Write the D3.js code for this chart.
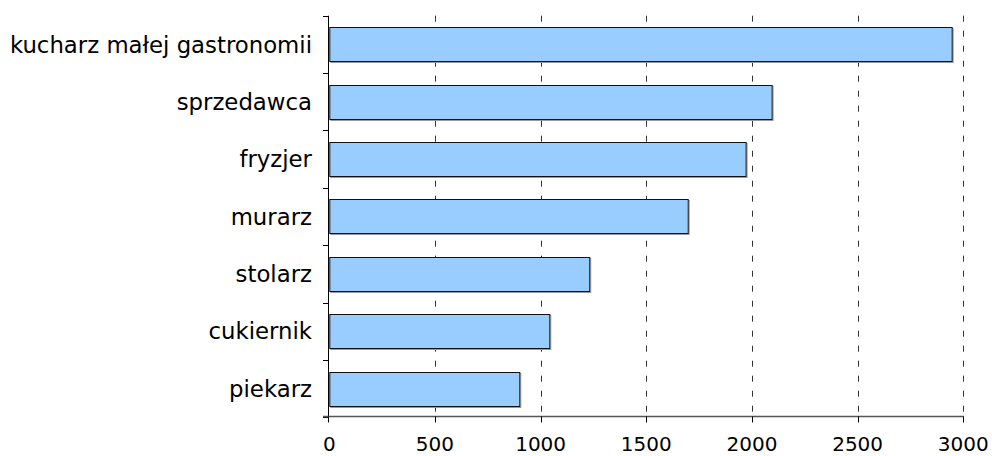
<!DOCTYPE html>
<html>
<head>
<meta charset="utf-8">
<script src="https://cdn.jsdelivr.net/npm/d3@7"></script>
<style>
  html, body { margin: 0; padding: 0; background: #fff; }
  svg { display: block; }
  text { font-family: "DejaVu Sans", Verdana, sans-serif; fill: #000; }
</style>
</head>
<body>
<svg id="chart" width="992" height="456"></svg>
<script>
const categories = ["kucharz małej gastronomii", "sprzedawca", "fryzjer", "murarz", "stolarz", "cukiernik", "piekarz"];
const values = [2945, 2093, 1970, 1696, 1230, 1041, 899];
const xTicks = [0, 500, 1000, 1500, 2000, 2500, 3000];

const W = 992, H = 456;
const margin = { top: 15.7, right: 28.7, bottom: 38.7, left: 329.3 };
const svg = d3.select("#chart");

const x = d3.scaleLinear().domain([0, 3000]).range([margin.left, W - margin.right]);
const pad = 0.407;
const y = d3.scaleBand().domain(categories)
  .range([margin.top, H - margin.bottom])
  .paddingInner(pad).paddingOuter(pad / 2);
const step = y.step();

// gridlines
svg.append("g").selectAll("line").data(xTicks.filter(t => t > 0)).join("line")
  .attr("x1", d => Math.round(x(d)) + 0.5).attr("x2", d => Math.round(x(d)) + 0.5)
  .attr("y1", margin.top).attr("y2", H - margin.bottom)
  .attr("stroke", "#333").attr("stroke-width", 1)
  .attr("stroke-dasharray", "6,9");

// bar shadows
svg.append("g").selectAll("rect").data(categories).join("rect")
  .attr("x", x(0) + 1.5)
  .attr("y", d => Math.round(y(d)) + 1.5)
  .attr("width", (d, i) => x(values[i]) - x(0))
  .attr("height", Math.round(y.bandwidth()))
  .attr("fill", "none").attr("stroke", "#999").attr("stroke-width", 1);

// bars
svg.append("g").selectAll("rect").data(categories).join("rect")
  .attr("x", x(0) + 0.5)
  .attr("y", d => Math.round(y(d)) + 0.5)
  .attr("width", (d, i) => x(values[i]) - x(0))
  .attr("height", Math.round(y.bandwidth()))
  .attr("fill", "#99CCFF").attr("stroke", "#111").attr("stroke-width", 1);

// left axis
const axL = svg.append("g");
axL.append("line")
  .attr("x1", Math.round(margin.left) - 0.5).attr("x2", Math.round(margin.left) - 0.5)
  .attr("y1", margin.top).attr("y2", H - margin.bottom)
  .attr("stroke", "#000");
axL.selectAll("line.t").data(d3.range(categories.length + 1)).join("line").attr("class", "t")
  .attr("x1", Math.round(margin.left) - 6).attr("x2", Math.round(margin.left))
  .attr("y1", i => Math.round(margin.top + i * step) + 0.5)
  .attr("y2", i => Math.round(margin.top + i * step) + 0.5)
  .attr("stroke", "#000");
axL.selectAll("text").data(categories).join("text")
  .attr("x", 312).attr("y", d => y(d) + y.bandwidth() / 2)
  .attr("dy", "0.36em").attr("text-anchor", "end")
  .style("font-size", "22.8px").text(d => d);

// bottom axis
const axB = svg.append("g");
const yb = Math.round(H - margin.bottom) - 0.5;
axB.append("line")
  .attr("x1", Math.round(margin.left) - 6).attr("x2", x(3000) + 0.5)
  .attr("y1", yb).attr("y2", yb)
  .attr("stroke", "#555").attr("stroke-width", 1.3);
axB.selectAll("line.t").data(xTicks).join("line").attr("class", "t")
  .attr("x1", d => Math.round(x(d)) - 0.5 + (d > 0 ? 1 : 0)).attr("x2", d => Math.round(x(d)) - 0.5 + (d > 0 ? 1 : 0))
  .attr("y1", yb).attr("y2", yb + 6)
  .attr("stroke", "#000");
axB.selectAll("text").data(xTicks).join("text")
  .attr("x", d => x(d)).attr("y", 451)
  .attr("text-anchor", "middle")
  .style("font-size", "20px").text(d => d);
</script>
</body>
</html>
